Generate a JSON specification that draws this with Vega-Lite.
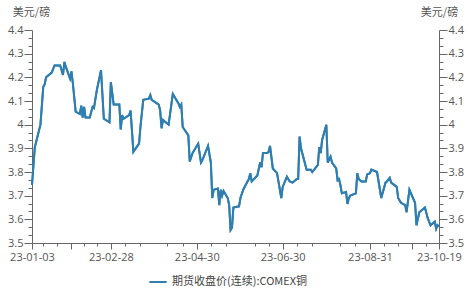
{
  "$schema": "https://vega.github.io/schema/vega-lite/v6.json",
  "width": 407,
  "height": 213,
  "autosize": {"type": "none"},
  "padding": {"left": 32, "top": 30, "right": 30, "bottom": 47},
  "background": "#ffffff",
  "config": {
    "view": {"stroke": null},
    "font": "Open Sans, Noto Sans CJK SC",
    "axis": {
      "labelFont": "Open Sans, Noto Sans CJK SC",
      "titleFont": "Noto Sans CJK SC",
      "labelFontSize": 11,
      "labelColor": "#555555",
      "titleColor": "#555555",
      "titleFontSize": 11,
      "titleFontWeight": "normal",
      "domainColor": "#666666",
      "tickColor": "#666666",
      "grid": false
    },
    "legend": {
      "labelFont": "Noto Sans CJK SC",
      "labelFontSize": 11,
      "labelColor": "#444444"
    }
  },
  "data": {
    "values": [
      {"date": "2023-01-03", "price": 3.745},
      {"date": "2023-01-05", "price": 3.905},
      {"date": "2023-01-09", "price": 4.0},
      {"date": "2023-01-11", "price": 4.16},
      {"date": "2023-01-12", "price": 4.17},
      {"date": "2023-01-13", "price": 4.2},
      {"date": "2023-01-17", "price": 4.22},
      {"date": "2023-01-19", "price": 4.25},
      {"date": "2023-01-23", "price": 4.25},
      {"date": "2023-01-25", "price": 4.21},
      {"date": "2023-01-26", "price": 4.265},
      {"date": "2023-01-27", "price": 4.245},
      {"date": "2023-01-30", "price": 4.195},
      {"date": "2023-01-31", "price": 4.225},
      {"date": "2023-02-01", "price": 4.175},
      {"date": "2023-02-03", "price": 4.055},
      {"date": "2023-02-06", "price": 4.045},
      {"date": "2023-02-07", "price": 4.08},
      {"date": "2023-02-08", "price": 4.03},
      {"date": "2023-02-09", "price": 4.075},
      {"date": "2023-02-10", "price": 4.03},
      {"date": "2023-02-13", "price": 4.03},
      {"date": "2023-02-15", "price": 4.075},
      {"date": "2023-02-16", "price": 4.07},
      {"date": "2023-02-18", "price": 4.145},
      {"date": "2023-02-21", "price": 4.23},
      {"date": "2023-02-23", "price": 4.025},
      {"date": "2023-02-27", "price": 4.01},
      {"date": "2023-02-28", "price": 4.18},
      {"date": "2023-03-02", "price": 4.085},
      {"date": "2023-03-06", "price": 4.085},
      {"date": "2023-03-07", "price": 3.98},
      {"date": "2023-03-08", "price": 4.04},
      {"date": "2023-03-09", "price": 4.025},
      {"date": "2023-03-13", "price": 4.04},
      {"date": "2023-03-14", "price": 4.06},
      {"date": "2023-03-16", "price": 3.885},
      {"date": "2023-03-20", "price": 3.92},
      {"date": "2023-03-21", "price": 3.99},
      {"date": "2023-03-23", "price": 4.105},
      {"date": "2023-03-27", "price": 4.11},
      {"date": "2023-03-28", "price": 4.125},
      {"date": "2023-03-29", "price": 4.105},
      {"date": "2023-04-03", "price": 4.085},
      {"date": "2023-04-04", "price": 4.06},
      {"date": "2023-04-05", "price": 3.985},
      {"date": "2023-04-06", "price": 4.02},
      {"date": "2023-04-10", "price": 4.0},
      {"date": "2023-04-13", "price": 4.13},
      {"date": "2023-04-17", "price": 4.09},
      {"date": "2023-04-18", "price": 4.075},
      {"date": "2023-04-19", "price": 4.085},
      {"date": "2023-04-20", "price": 3.99},
      {"date": "2023-04-24", "price": 3.955},
      {"date": "2023-04-25", "price": 3.845},
      {"date": "2023-04-27", "price": 3.88},
      {"date": "2023-05-01", "price": 3.92},
      {"date": "2023-05-03", "price": 3.84},
      {"date": "2023-05-04", "price": 3.85},
      {"date": "2023-05-08", "price": 3.91},
      {"date": "2023-05-10", "price": 3.84},
      {"date": "2023-05-11", "price": 3.69},
      {"date": "2023-05-12", "price": 3.725},
      {"date": "2023-05-15", "price": 3.73},
      {"date": "2023-05-16", "price": 3.66},
      {"date": "2023-05-17", "price": 3.725},
      {"date": "2023-05-18", "price": 3.7},
      {"date": "2023-05-19", "price": 3.72},
      {"date": "2023-05-22", "price": 3.69},
      {"date": "2023-05-23", "price": 3.66},
      {"date": "2023-05-24", "price": 3.555},
      {"date": "2023-05-25", "price": 3.565},
      {"date": "2023-05-26", "price": 3.65},
      {"date": "2023-05-30", "price": 3.655},
      {"date": "2023-05-31", "price": 3.69},
      {"date": "2023-06-02", "price": 3.725},
      {"date": "2023-06-05", "price": 3.76},
      {"date": "2023-06-06", "price": 3.77},
      {"date": "2023-06-07", "price": 3.795},
      {"date": "2023-06-08", "price": 3.76},
      {"date": "2023-06-12", "price": 3.785},
      {"date": "2023-06-14", "price": 3.84},
      {"date": "2023-06-15", "price": 3.82},
      {"date": "2023-06-16", "price": 3.88},
      {"date": "2023-06-19", "price": 3.88},
      {"date": "2023-06-20", "price": 3.885},
      {"date": "2023-06-21", "price": 3.91},
      {"date": "2023-06-23", "price": 3.815},
      {"date": "2023-06-26", "price": 3.795},
      {"date": "2023-06-29", "price": 3.69},
      {"date": "2023-06-30", "price": 3.737},
      {"date": "2023-07-03", "price": 3.78},
      {"date": "2023-07-05", "price": 3.76},
      {"date": "2023-07-07", "price": 3.755},
      {"date": "2023-07-10", "price": 3.77},
      {"date": "2023-07-11", "price": 3.77},
      {"date": "2023-07-12", "price": 3.95},
      {"date": "2023-07-13", "price": 3.9},
      {"date": "2023-07-17", "price": 3.81},
      {"date": "2023-07-20", "price": 3.81},
      {"date": "2023-07-21", "price": 3.8},
      {"date": "2023-07-25", "price": 3.83},
      {"date": "2023-07-26", "price": 3.905},
      {"date": "2023-07-27", "price": 3.88},
      {"date": "2023-07-28", "price": 3.935},
      {"date": "2023-07-31", "price": 4.0},
      {"date": "2023-08-01", "price": 3.84},
      {"date": "2023-08-03", "price": 3.865},
      {"date": "2023-08-04", "price": 3.84},
      {"date": "2023-08-07", "price": 3.815},
      {"date": "2023-08-08", "price": 3.765},
      {"date": "2023-08-09", "price": 3.77},
      {"date": "2023-08-10", "price": 3.745},
      {"date": "2023-08-11", "price": 3.71},
      {"date": "2023-08-14", "price": 3.715},
      {"date": "2023-08-15", "price": 3.665},
      {"date": "2023-08-16", "price": 3.69},
      {"date": "2023-08-17", "price": 3.7},
      {"date": "2023-08-21", "price": 3.71},
      {"date": "2023-08-22", "price": 3.795},
      {"date": "2023-08-23", "price": 3.77},
      {"date": "2023-08-25", "price": 3.76},
      {"date": "2023-08-28", "price": 3.76},
      {"date": "2023-08-29", "price": 3.79},
      {"date": "2023-08-31", "price": 3.795},
      {"date": "2023-09-01", "price": 3.81},
      {"date": "2023-09-05", "price": 3.8},
      {"date": "2023-09-08", "price": 3.69},
      {"date": "2023-09-11", "price": 3.755},
      {"date": "2023-09-12", "price": 3.76},
      {"date": "2023-09-14", "price": 3.775},
      {"date": "2023-09-15", "price": 3.755},
      {"date": "2023-09-19", "price": 3.737},
      {"date": "2023-09-20", "price": 3.69},
      {"date": "2023-09-22", "price": 3.67},
      {"date": "2023-09-25", "price": 3.66},
      {"date": "2023-09-26", "price": 3.63},
      {"date": "2023-09-28", "price": 3.725},
      {"date": "2023-10-02", "price": 3.67},
      {"date": "2023-10-03", "price": 3.575},
      {"date": "2023-10-05", "price": 3.63},
      {"date": "2023-10-09", "price": 3.65},
      {"date": "2023-10-11", "price": 3.605},
      {"date": "2023-10-13", "price": 3.575},
      {"date": "2023-10-16", "price": 3.59},
      {"date": "2023-10-17", "price": 3.56},
      {"date": "2023-10-18", "price": 3.575},
      {"date": "2023-10-19", "price": 3.57}
    ]
  },
  "encoding": {
    "x": {
      "field": "date",
      "type": "temporal",
      "scale": {
        "type": "utc",
        "domain": [
          {"year": 2023, "month": 1, "date": 3, "utc": true},
          {"year": 2023, "month": 10, "date": 19, "utc": true}
        ],
        "nice": false
      },
      "axis": {
        "title": null,
        "values": [
          {"year": 2023, "month": 1, "date": 3, "utc": true},
          {"year": 2023, "month": 1, "date": 11, "utc": true},
          {"year": 2023, "month": 1, "date": 21, "utc": true},
          {"year": 2023, "month": 1, "date": 31, "utc": true},
          {"year": 2023, "month": 2, "date": 9, "utc": true},
          {"year": 2023, "month": 2, "date": 18, "utc": true},
          {"year": 2023, "month": 2, "date": 28, "utc": true},
          {"year": 2023, "month": 3, "date": 10, "utc": true},
          {"year": 2023, "month": 3, "date": 21, "utc": true},
          {"year": 2023, "month": 4, "date": 9, "utc": true},
          {"year": 2023, "month": 4, "date": 20, "utc": true},
          {"year": 2023, "month": 4, "date": 30, "utc": true},
          {"year": 2023, "month": 5, "date": 10, "utc": true},
          {"year": 2023, "month": 5, "date": 21, "utc": true},
          {"year": 2023, "month": 6, "date": 10, "utc": true},
          {"year": 2023, "month": 6, "date": 20, "utc": true},
          {"year": 2023, "month": 6, "date": 30, "utc": true},
          {"year": 2023, "month": 7, "date": 10, "utc": true},
          {"year": 2023, "month": 7, "date": 21, "utc": true},
          {"year": 2023, "month": 8, "date": 10, "utc": true},
          {"year": 2023, "month": 8, "date": 20, "utc": true},
          {"year": 2023, "month": 8, "date": 31, "utc": true},
          {"year": 2023, "month": 9, "date": 10, "utc": true},
          {"year": 2023, "month": 9, "date": 20, "utc": true},
          {"year": 2023, "month": 9, "date": 30, "utc": true},
          {"year": 2023, "month": 10, "date": 10, "utc": true},
          {"year": 2023, "month": 10, "date": 19, "utc": true}
        ],
        "labelExpr": "indexof(['01-03','02-28','04-30','06-30','08-31','10-19'], utcFormat(datum.value, '%m-%d')) >= 0 ? utcFormat(datum.value, '%y-%m-%d') : ''",
        "labelOverlap": false,
        "labelPadding": 2,
        "labelBound": false,
        "labelFlush": false,
        "tickSize": {
          "condition": {
            "test": "indexof(['01-03','01-31','02-28','04-30','06-30','08-31','09-30','10-19'], utcFormat(datum.value, '%m-%d')) >= 0",
            "value": 6
          },
          "value": 3
        }
      }
    }
  },
  "layer": [
    {
      "mark": {"type": "line", "strokeWidth": 2, "interpolate": "linear"},
      "encoding": {
        "y": {
          "field": "price",
          "type": "quantitative",
          "scale": {"domain": [3.5, 4.4], "nice": false, "zero": false},
          "axis": {
            "orient": "left",
            "title": "美元/磅",
            "titleAngle": 0,
            "titleX": -1,
            "titleY": -18,
            "titleAlign": "center",
            "titleBaseline": "middle",
            "values": [3.5, 3.5333, 3.5667, 3.6, 3.6333, 3.6667, 3.7, 3.7333, 3.7667, 3.8, 3.8333, 3.8667, 3.9, 3.9333, 3.9667, 4.0, 4.0333, 4.0667, 4.1, 4.1333, 4.1667, 4.2, 4.2333, 4.2667, 4.3, 4.3333, 4.3667, 4.4],
            "labelExpr": "abs(datum.value*10 - round(datum.value*10)) < 0.01 ? format(datum.value, '~g') : ''",
            "labelOverlap": false,
            "labelPadding": 1,
            "labelFlush": false,
            "tickSize": {
              "condition": {"test": "abs(datum.value*10 - round(datum.value*10)) < 0.01", "value": 8},
              "value": 4
            }
          }
        },
        "color": {
          "datum": "期货收盘价(连续):COMEX铜",
          "type": "nominal",
          "scale": {"range": ["#2e7fb0"]},
          "legend": {
            "title": null,
            "orient": "none",
            "legendX": 116,
            "legendY": 242,
            "symbolType": "stroke",
            "symbolSize": 300,
            "symbolStrokeWidth": 2,
            "labelOffset": 4
          }
        }
      }
    },
    {
      "mark": {"type": "line", "strokeWidth": 2, "color": "#2e7fb0"},
      "encoding": {
        "y": {
          "field": "price",
          "type": "quantitative",
          "scale": {"domain": [3.5, 4.4], "nice": false, "zero": false},
          "axis": {
            "orient": "right",
            "title": "美元/磅",
            "titleAngle": 0,
            "titleX": 0,
            "titleY": -18,
            "titleAlign": "center",
            "titleBaseline": "middle",
            "values": [3.5, 3.5333, 3.5667, 3.6, 3.6333, 3.6667, 3.7, 3.7333, 3.7667, 3.8, 3.8333, 3.8667, 3.9, 3.9333, 3.9667, 4.0, 4.0333, 4.0667, 4.1, 4.1333, 4.1667, 4.2, 4.2333, 4.2667, 4.3, 4.3333, 4.3667, 4.4],
            "labelExpr": "abs(datum.value*10 - round(datum.value*10)) < 0.01 ? format(datum.value, '~g') : ''",
            "labelOverlap": false,
            "labelPadding": 1,
            "labelFlush": false,
            "tickSize": {
              "condition": {"test": "abs(datum.value*10 - round(datum.value*10)) < 0.01", "value": 8},
              "value": 4
            }
          }
        }
      }
    }
  ],
  "resolve": {"scale": {"y": "independent"}, "axis": {"y": "independent"}}
}
